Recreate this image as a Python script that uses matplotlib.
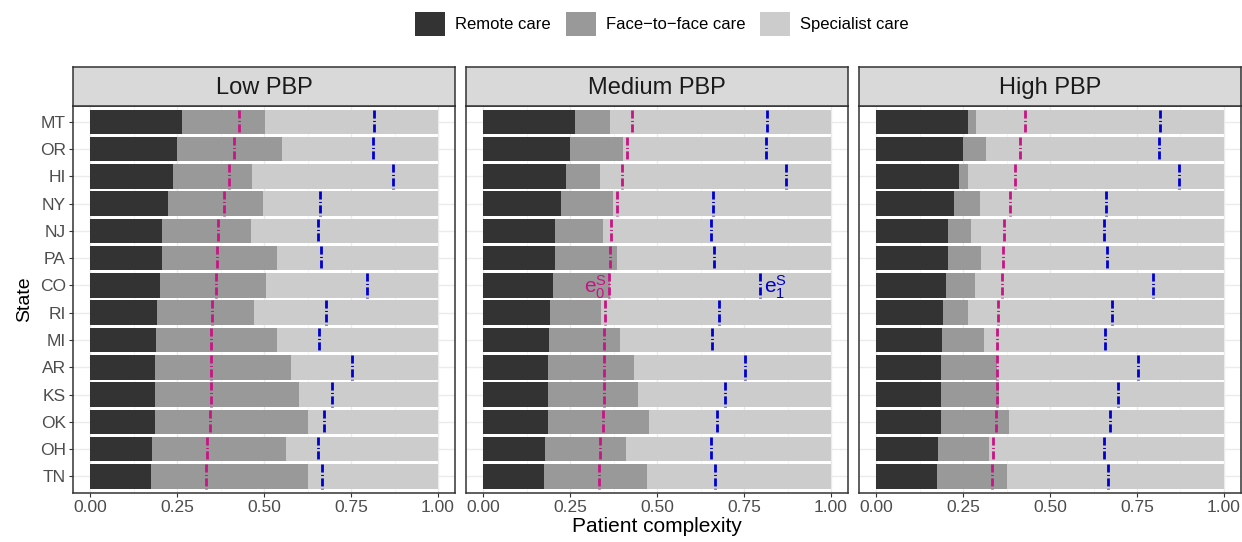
import numpy as np
import matplotlib.pyplot as plt
from matplotlib.patches import Patch

plt.rcParams['font.family'] = ['Liberation Sans', 'DejaVu Sans']
plt.rcParams['mathtext.fontset'] = 'custom'
plt.rcParams['mathtext.rm'] = 'Liberation Sans'

states = ['MT', 'OR', 'HI', 'NY', 'NJ', 'PA', 'CO', 'RI', 'MI', 'AR', 'KS', 'OK', 'OH', 'TN']
panels = ['Low PBP', 'Medium PBP', 'High PBP']

# share of remote care (same in every panel)
remote = [0.264, 0.250, 0.238, 0.224, 0.207, 0.207, 0.201, 0.193, 0.190, 0.187, 0.187, 0.187, 0.178, 0.175]
# cumulative end of face-to-face care per panel
f2f_end_low = [0.503, 0.552, 0.466, 0.497, 0.463, 0.537, 0.506, 0.471, 0.537, 0.578, 0.601, 0.626, 0.563, 0.626]
f2f_end_med = [0.365, 0.402, 0.336, 0.374, 0.345, 0.385, 0.365, 0.339, 0.394, 0.434, 0.445, 0.477, 0.411, 0.471]
f2f_end_high = [0.287, 0.316, 0.264, 0.299, 0.273, 0.302, 0.284, 0.264, 0.310, 0.348, 0.353, 0.382, 0.325, 0.376]
# thresholds
e0 = [0.429, 0.415, 0.400, 0.386, 0.368, 0.366, 0.363, 0.352, 0.349, 0.348, 0.348, 0.346, 0.337, 0.334]
e1 = [0.817, 0.812, 0.872, 0.661, 0.655, 0.665, 0.796, 0.679, 0.659, 0.752, 0.696, 0.672, 0.655, 0.667]

f2f_ends = [f2f_end_low, f2f_end_med, f2f_end_high]

c_remote, c_f2f, c_spec = '#333333', '#999999', '#CCCCCC'
c_e0, c_e1 = '#C71585', '#0000CD'

W, H = 1242, 542
fig = plt.figure(figsize=(W / 100, H / 100), dpi=100)

y = np.arange(len(states))[::-1].astype(float)
lefts = [72.6, 465.6, 858.6]
pw = 382.8
top, bottom = 105.5, 492.7
strip_top = 67.5
dash = (0, (2.9, 0.85, 0.4, 0.85))

for k, (name, ends) in enumerate(zip(panels, f2f_ends)):
    ax = fig.add_axes([lefts[k] / W, (H - bottom) / H, pw / W, (bottom - top) / H])
    rem = np.array(remote)
    ends = np.array(ends)
    ax.barh(y, rem, height=0.9, color=c_remote, zorder=2)
    ax.barh(y, ends - rem, left=rem, height=0.9, color=c_f2f, zorder=2)
    ax.barh(y, 1 - ends, left=ends, height=0.9, color=c_spec, zorder=2)
    ax.vlines(e0, y + 0.45, y - 0.45, colors=c_e0, linestyles=dash, lw=2.0, zorder=3)
    ax.vlines(e1, y + 0.45, y - 0.45, colors=c_e1, linestyles=dash, lw=2.0, zorder=3)

    ax.set_xlim(-0.05, 1.05)
    ax.set_ylim(-0.6, len(states) - 0.4)
    ax.set_xticks([0, 0.25, 0.5, 0.75, 1.0])
    ax.set_xticklabels(['0.00', '0.25', '0.50', '0.75', '1.00'])
    ax.set_xticks([0.125, 0.375, 0.625, 0.875], minor=True)
    ax.set_yticks(y)
    ax.tick_params(which='major', length=3, color='#333333', labelsize=12.5, labelcolor='#4D4D4D', pad=2)
    ax.tick_params(which='minor', length=0)
    if k == 0:
        ax.set_yticklabels(states)
        ax.set_ylabel('State', fontsize=14, labelpad=5)
    else:
        ax.set_yticklabels([])
        ax.tick_params(axis='y', length=0)
    if k == 1:
        ax.set_xlabel('Patient complexity', fontsize=15, labelpad=2)
        co = states.index('CO')
        ax.text(e0[co] - 0.008, y[co] - 0.05, r'$\mathregular{e_0^S}$', color=c_e0,
                fontsize=15, ha='right', va='center', zorder=4)
        ax.text(e1[co] + 0.012, y[co] - 0.05, r'$\mathregular{e_1^S}$', color=c_e1,
                fontsize=15, ha='left', va='center', zorder=4)

    ax.grid(True, which='major', color='#EBEBEB', lw=1.0, zorder=0)
    ax.grid(True, which='minor', axis='x', color='#F2F2F2', lw=0.6, zorder=0)
    ax.set_axisbelow(True)
    for s in ax.spines.values():
        s.set_color('#333333')
        s.set_linewidth(1.1)

    sax = fig.add_axes([lefts[k] / W, (H - top) / H, pw / W, (top - strip_top) / H])
    sax.set_facecolor('#D9D9D9')
    sax.set_xticks([])
    sax.set_yticks([])
    for s in sax.spines.values():
        s.set_color('#333333')
        s.set_linewidth(1.1)
    sax.text(0.5, 0.45, name, fontsize=17, ha='center', va='center', color='#1A1A1A',
             transform=sax.transAxes)

handles = [Patch(facecolor=c_remote), Patch(facecolor=c_f2f), Patch(facecolor=c_spec)]
fig.legend(handles, ['Remote care', 'Face\u2212to\u2212face care', 'Specialist care'],
           loc='center', bbox_to_anchor=(662 / W, 1 - 24 / H), ncol=3, frameon=False,
           fontsize=12, handlelength=1.8, handleheight=1.8, handletextpad=0.6,
           columnspacing=0.9)

fig.savefig('out.png', dpi=100)
